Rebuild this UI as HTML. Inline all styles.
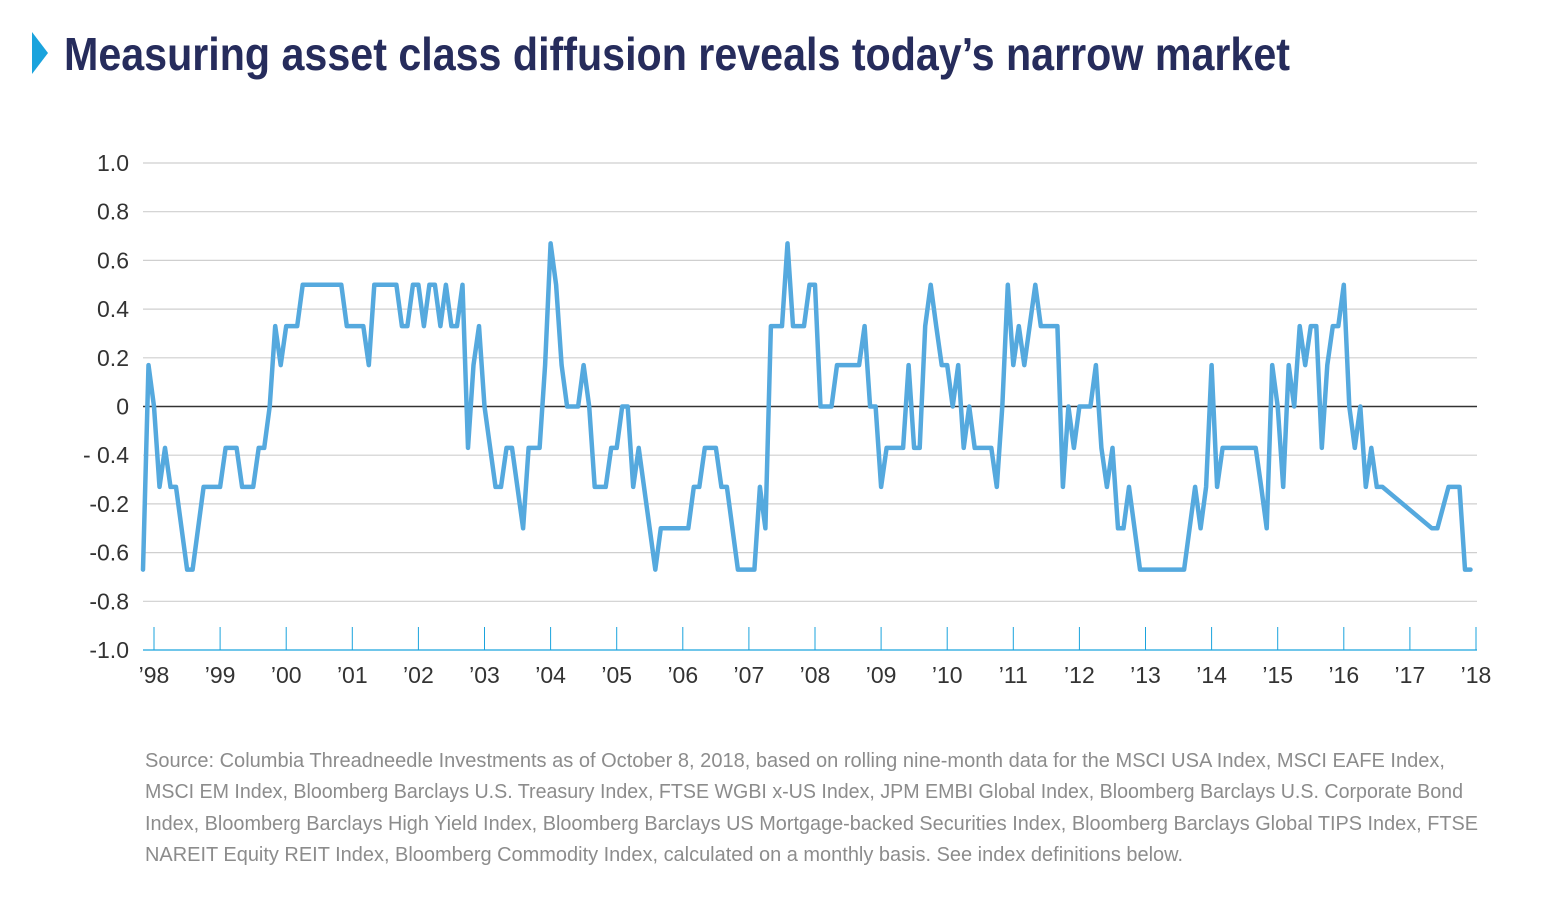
<!DOCTYPE html>
<html><head><meta charset="utf-8"><style>
html,body{margin:0;padding:0;background:#fff;}
svg{display:block;}
</style></head><body>
<svg id="chart" width="1556" height="916" viewBox="0 0 1556 916" xmlns="http://www.w3.org/2000/svg">
<polygon points="32,32 48,53 32,74" fill="#1aa3dd"/>
<text x="64" y="70" font-family="'Liberation Sans Narrow','Liberation Sans',sans-serif" font-weight="bold" font-size="46" fill="#262c5c" textLength="1226" lengthAdjust="spacingAndGlyphs">Measuring asset class diffusion reveals today’s narrow market</text>
<g id="grid"></g>
<g id="yticks"></g>
<g id="xticks"></g>
<g id="series"></g>
<g font-family="'Liberation Sans Narrow','Liberation Sans',sans-serif" font-size="20" fill="#8c8c8c">
<text x="145" y="767" textLength="1300" lengthAdjust="spacingAndGlyphs">Source: Columbia Threadneedle Investments as of October 8, 2018, based on rolling nine-month data for the MSCI USA Index, MSCI EAFE Index,</text>
<text x="145" y="798" textLength="1318" lengthAdjust="spacingAndGlyphs">MSCI EM Index, Bloomberg Barclays U.S. Treasury Index, FTSE WGBI x-US Index, JPM EMBI Global Index, Bloomberg Barclays U.S. Corporate Bond</text>
<text x="145" y="830" textLength="1333" lengthAdjust="spacingAndGlyphs">Index, Bloomberg Barclays High Yield Index, Bloomberg Barclays US Mortgage-backed Securities Index, Bloomberg Barclays Global TIPS Index, FTSE</text>
<text x="145" y="861" textLength="1038" lengthAdjust="spacingAndGlyphs">NAREIT Equity REIT Index, Bloomberg Commodity Index, calculated on a monthly basis. See index definitions below.</text>
</g>
</svg>
<script>
// months since Jan 1998 and diffusion values
const months = [-2,-1,0,1,2,3,4,6,7,9,12,13,15,16,18,19,20,21,22,23,24,26,27,34,35,38,39,40,44,45,46,47,48,49,50,51,52,53,54,55,56,57,58,59,60,62,63,64,65,67,68,70,71,72,73,74,75,77,78,79,80,82,83,84,85,86,87,88,91,92,97,98,99,100,102,103,104,106,109,110,111,112,114,115,116,118,119,120,121,123,124,128,129,130,131,132,133,136,137,138,139,140,141,142,143,144,145,146,147,148,149,152,153,154,155,156,157,158,160,161,164,165,166,167,168,170,171,172,173,174,175,176,177,179,187,188,189,190,191,192,193,194,200,201,202,203,204,205,206,207,208,209,210,211,212,213,214,215,216,217,218,219,220,221,222,223,232,233,235,237,238,239];
const values = [-0.67,0.17,0,-0.33,-0.17,-0.33,-0.33,-0.67,-0.67,-0.33,-0.33,-0.17,-0.17,-0.33,-0.33,-0.17,-0.17,0,0.33,0.17,0.33,0.33,0.5,0.5,0.33,0.33,0.17,0.5,0.5,0.33,0.33,0.5,0.5,0.33,0.5,0.5,0.33,0.5,0.33,0.33,0.5,-0.17,0.17,0.33,0,-0.33,-0.33,-0.17,-0.17,-0.5,-0.17,-0.17,0.17,0.67,0.5,0.17,0,0,0.17,0,-0.33,-0.33,-0.17,-0.17,0,0,-0.33,-0.17,-0.67,-0.5,-0.5,-0.33,-0.33,-0.17,-0.17,-0.33,-0.33,-0.67,-0.67,-0.33,-0.5,0.33,0.33,0.67,0.33,0.33,0.5,0.5,0,0,0.17,0.17,0.33,0,0,-0.33,-0.17,-0.17,0.17,-0.17,-0.17,0.33,0.5,0.33,0.17,0.17,0,0.17,-0.17,0,-0.17,-0.17,-0.33,0,0.5,0.17,0.33,0.17,0.5,0.33,0.33,-0.33,0,-0.17,0,0,0.17,-0.17,-0.33,-0.17,-0.5,-0.5,-0.33,-0.67,-0.67,-0.5,-0.33,-0.5,-0.33,0.17,-0.33,-0.17,-0.17,-0.33,-0.5,0.17,0,-0.33,0.17,0,0.33,0.17,0.33,0.33,-0.17,0.17,0.33,0.33,0.5,0,-0.17,0,-0.33,-0.17,-0.33,-0.33,-0.5,-0.5,-0.33,-0.33,-0.67,-0.67,-0.5];
const yTickValues = [1.0,0.8,0.6,0.4,0.2,0,-0.2,-0.4,-0.6,-0.8,-1.0];
const yTickLabels = ["1.0","0.8","0.6","0.4","0.2","0","- 0.4","-0.2","-0.6","-0.8","-1.0"];
const xTickYears = [0,1,2,3,4,5,6,7,8,9,10,11,12,13,14,15,16,17,18,19,20];
const xTickLabels = ["’98","’99","’00","’01","’02","’03","’04","’05","’06","’07","’08","’09","’10","’11","’12","’13","’14","’15","’16","’17","’18"];

const NS='http://www.w3.org/2000/svg';
const X0=143,X1=1477,Y_TOP=163,Y_BOT=650;
const xOfMonth=m=>154+m*(1476-154)/240;
const yOf=v=>Y_TOP+(1-v)/2*(Y_BOT-Y_TOP);
function mk(tag,attrs,parent){const e=document.createElementNS(NS,tag);for(const k in attrs)e.setAttribute(k,attrs[k]);parent.appendChild(e);return e;}
const grid=document.getElementById('grid'),yt=document.getElementById('yticks'),xt=document.getElementById('xticks'),ser=document.getElementById('series');
yTickValues.forEach((v,i)=>{
  const y=yOf(v);
  if(v!==-1){
    const l=mk('line',{x1:X0,x2:X1,y1:y,y2:y,stroke:v===0?'#333':'#cfcfcf','stroke-width':v===0?1.5:1.2},grid);
    
    
  }
  const t=mk('text',{x:129,y:y+8,'text-anchor':'end','font-family':"'Liberation Sans Narrow','Liberation Sans',sans-serif",'font-size':23,fill:'#333'},yt);
  t.textContent=yTickLabels[i];
  
  
});
const ax=mk('line',{x1:X0,x2:X1,y1:Y_BOT,y2:Y_BOT,stroke:'#1aa3dd','stroke-width':1.2},xt);


xTickYears.forEach((yr,i)=>{
  const x=xOfMonth(yr*12);
  const tk=mk('line',{x1:x,x2:x,y1:627,y2:Y_BOT,stroke:'#1aa3dd','stroke-width':1},xt);
  
  
  const t=mk('text',{x:x,y:683,'text-anchor':'middle','font-family':"'Liberation Sans Narrow','Liberation Sans',sans-serif",'font-size':23,fill:'#333'},xt);
  t.textContent=xTickLabels[i];
  
  
});
const pts=months.map((m,i)=>xOfMonth(m).toFixed(1)+','+yOf(values[i]).toFixed(1)).join(' ');
const pl=mk('polyline',{points:pts,fill:'none',stroke:'#55a9de','stroke-width':4.5,'stroke-linejoin':'round','stroke-linecap':'round'},ser);


</script>
</body></html>
